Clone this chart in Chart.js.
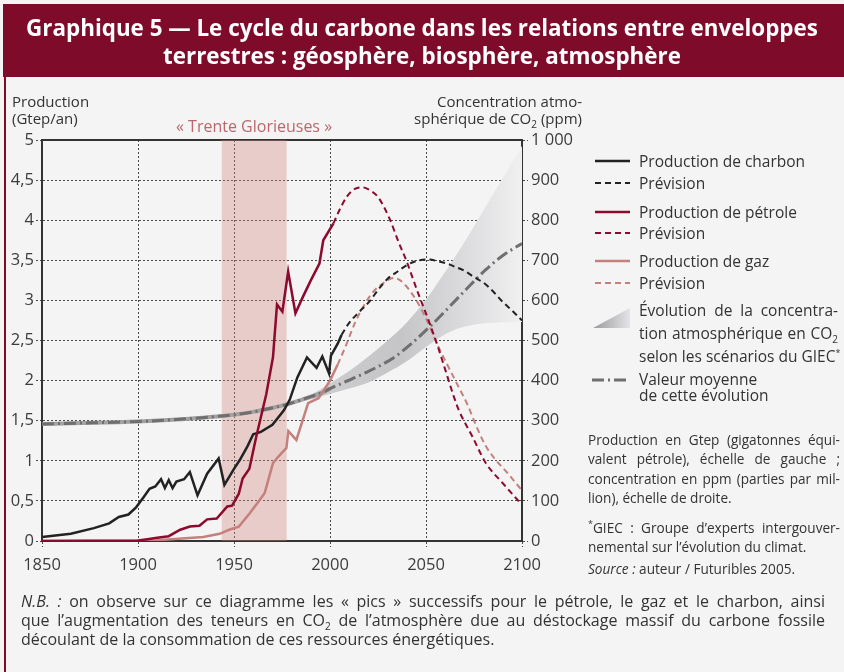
<!DOCTYPE html>
<html lang="fr">
<head>
<meta charset="utf-8">
<script src="https://cdn.jsdelivr.net/npm/chart.js@4.4.0/dist/chart.umd.min.js"></script>
<style>
  body { margin: 0; width: 844px; height: 672px; background: #f4f4f4; position: relative; overflow: hidden;
         font-family: "Open Sans", sans-serif; color: #333; }
  #chart { position: absolute; left: 0; top: 0; }
  .abs { position: absolute; white-space: nowrap; }
  .title-band { position: absolute; left: 3px; top: 4px; width: 841px; height: 73px; background: #7f0b2b; }
  .title { position: absolute; left: 0; width: 844px; text-align: center; color: #fff; font-weight: 700;
           font-size: 22.4px; line-height: 28px; white-space: nowrap; }
  .frame { position: absolute; left: 4px; top: 77px; width: 2px; height: 595px; background: #7f0b2b; }
  .axt { font-size: 15px; line-height: 18px; color: #333; }
  .leg { font-size: 15.5px; line-height: 18px; color: #333; }
  .note { position: absolute; left: 588px; width: 252px; font-size: 13.6px; line-height: 19.4px; color: #333; }
  .j { text-align: justify; text-align-last: justify; white-space: nowrap; }
  .nb { position: absolute; left: 21px; width: 804px; font-size: 16px; line-height: 19px; color: #333; }
</style>
</head>
<body>
<canvas id="chart" width="844" height="672"></canvas>

<div class="title-band"></div>
<div class="title" style="top:14px">Graphique 5 — Le cycle du carbone dans les relations entre enveloppes</div>
<div class="title" style="top:42px">terrestres : géosphère, biosphère, atmosphère</div>
<div class="frame"></div>

<div class="abs axt" style="left:12px;top:92px">Production</div>
<div class="abs axt" style="left:12px;top:109px">(Gtep/an)</div>
<div class="abs axt" style="right:262px;top:92px;text-align:right">Concentration atmo-</div>
<div class="abs axt" style="right:262px;top:109px;text-align:right">sphérique de CO<sub style="font-size:10px;line-height:0">2</sub> (ppm)</div>
<div class="abs axt" style="left:176px;top:117px;font-size:16px;color:#b9676b">« Trente Glorieuses »</div>

<svg class="abs" style="left:590px;top:150px" width="44" height="245">
  <line x1="5" y1="11" x2="40" y2="11" stroke="#222" stroke-width="2.5"/>
  <line x1="5" y1="33" x2="40" y2="33" stroke="#222" stroke-width="2" stroke-dasharray="6,4"/>
  <line x1="5" y1="62" x2="40" y2="62" stroke="#8b0a2e" stroke-width="2.5"/>
  <line x1="5" y1="83" x2="40" y2="83" stroke="#8b0a2e" stroke-width="2" stroke-dasharray="6,4"/>
  <line x1="5" y1="111" x2="40" y2="111" stroke="#c4807c" stroke-width="2.5"/>
  <line x1="5" y1="133" x2="40" y2="133" stroke="#c4807c" stroke-width="2" stroke-dasharray="6,4"/>
  <defs><linearGradient id="gg" x1="0" x2="1" y1="0" y2="0"><stop offset="0" stop-color="#9a9a9c"/><stop offset="1" stop-color="#e4e4e6"/></linearGradient></defs>
  <polygon points="3,178 40,158 40,178" fill="url(#gg)"/>
  <line x1="2" y1="230" x2="40" y2="230" stroke="#6f6f6f" stroke-width="3" stroke-dasharray="12,4,2,4"/>
</svg>
<div class="abs leg" style="left:639px;top:152px">Production de charbon</div>
<div class="abs leg" style="left:639px;top:174px">Prévision</div>
<div class="abs leg" style="left:639px;top:203px">Production de pétrole</div>
<div class="abs leg" style="left:639px;top:224px">Prévision</div>
<div class="abs leg" style="left:639px;top:252px">Production de gaz</div>
<div class="abs leg" style="left:639px;top:274px">Prévision</div>
<div class="abs leg j" style="left:639px;top:301px;width:199px">Évolution de la concentra-</div>
<div class="abs leg j" style="left:639px;top:324px;width:199px">tion atmosphérique en CO<sub style="font-size:10px;line-height:0">2</sub></div>
<div class="abs leg" style="left:639px;top:347px">selon les scénarios du GIEC<sup style="font-size:9px;line-height:0">*</sup></div>
<div class="abs leg" style="left:639px;top:370px">Valeur moyenne</div>
<div class="abs leg" style="left:639px;top:386px">de cette évolution</div>

<div class="note" style="top:430px">
  <div class="j">Production en Gtep (gigatonnes équi-</div>
  <div class="j">valent pétrole), échelle de gauche ;</div>
  <div class="j">concentration en ppm (parties par mil-</div>
  <div>lion), échelle de droite.</div>
</div>
<div class="note" style="top:518px">
  <div class="j"><sup style="font-size:9px;line-height:0">*</sup>GIEC : Groupe d’experts intergouver-</div>
  <div>nemental sur l’évolution du climat.</div>
</div>
<div class="note" style="top:559px"><i>Source :</i> auteur / Futuribles 2005.</div>

<div class="nb" style="top:592px">
  <div class="j"><i>N.B. :</i> on observe sur ce diagramme les « pics » successifs pour le pétrole, le gaz et le charbon, ainsi</div>
  <div class="j">que l’augmentation des teneurs en CO<sub style="font-size:10px;line-height:0">2</sub> de l’atmosphère due au déstockage massif du carbone fossile</div>
  <div>découlant de la consommation de ces ressources énergétiques.</div>
</div>

<script>
// Production de charbon (Gtep/an)
const coalYears = [1850, 1865, 1877, 1885, 1890, 1895, 1899, 1903, 1906, 1909, 1912, 1914, 1916, 1918, 1920, 1924,
  1927, 1931, 1936, 1942, 1945, 1950, 1953, 1957, 1960, 1964, 1970, 1976, 1979, 1983, 1988, 1993, 1996, 1999.5,
  2000.5, 2004, 2006];
const coalValues = [0.05, 0.09, 0.16, 0.22, 0.30, 0.33, 0.42, 0.55, 0.65, 0.68, 0.77, 0.66, 0.76, 0.66, 0.74, 0.77,
  0.86, 0.57, 0.84, 1.03, 0.70, 0.90, 1.01, 1.18, 1.33, 1.36, 1.45, 1.63, 1.76, 2.04, 2.29, 2.16, 2.30, 2.09,
  2.31, 2.46, 2.57];
const coalForecastYears = [2006, 2010, 2015, 2021, 2025, 2030, 2034, 2040, 2045, 2051, 2056, 2062, 2065, 2070, 2075,
  2080, 2085, 2090, 2095, 2100];
const coalForecastValues = [2.57, 2.72, 2.85, 3.0, 3.13, 3.27, 3.34, 3.44, 3.49, 3.51, 3.49, 3.45, 3.42, 3.37, 3.29,
  3.22, 3.11, 2.98, 2.87, 2.75];

// Production de pétrole
const oilYears = [1850, 1900, 1904, 1910, 1916, 1922, 1927, 1932, 1936, 1941, 1946.5, 1949, 1952.5, 1954.5, 1958,
  1961.5, 1966.8, 1970.3, 1972.4, 1975.2, 1978.2, 1982, 1986, 1990, 1994.5, 1996.5, 2001.8];
const oilValues = [0, 0.005, 0.02, 0.04, 0.06, 0.14, 0.18, 0.19, 0.27, 0.28, 0.43, 0.44, 0.59, 0.78, 0.90,
  1.29, 1.83, 2.29, 2.95, 2.86, 3.36, 2.84, 3.05, 3.25, 3.46, 3.75, 3.96];
const oilForecastYears = [2001.8, 2005, 2009, 2013, 2017, 2021, 2025, 2031, 2036, 2039.7, 2045.9, 2051.2, 2056.5,
  2060.1, 2064.5, 2067.1, 2074.2, 2081.2, 2090, 2100];
const oilForecastValues = [3.96, 4.13, 4.30, 4.39, 4.41, 4.37, 4.29, 4.02, 3.71, 3.50, 3.09, 2.76, 2.40,
  2.13, 1.80, 1.63, 1.30, 0.97, 0.72, 0.45];

// Production de gaz
const gasYears = [1850, 1900, 1910, 1923, 1934, 1942.5, 1947.5, 1952.5, 1958, 1963, 1966, 1970.3, 1973, 1977.3,
  1978.3, 1982.5, 1988.6, 1994, 2000, 2004];
const gasValues = [0, 0.003, 0.01, 0.03, 0.05, 0.09, 0.14, 0.18, 0.34, 0.50, 0.60, 0.97, 1.05, 1.16,
  1.37, 1.26, 1.72, 1.78, 2.0, 2.2];
const gasForecastYears = [2004, 2008, 2013, 2018, 2023, 2028, 2033, 2036, 2040, 2045, 2049.5, 2056.5, 2060, 2067,
  2072, 2075, 2081, 2086, 2092, 2100];
const gasForecastValues = [2.2, 2.42, 2.72, 2.95, 3.12, 3.22, 3.28, 3.26, 3.17, 3.0, 2.80, 2.42, 2.25, 1.92,
  1.68, 1.50, 1.19, 1.02, 0.86, 0.63];

// Concentration atmosphérique de CO2 (ppm)
const co2HistYears = [1850, 1870, 1900, 1920, 1950, 1960, 1970, 1977, 1985, 1990, 1996, 2000];
const co2HistValues = [292, 294, 298, 303, 315, 322, 332, 340, 352, 360, 370, 380];
const co2MeanYears = [1850, 1870, 1900, 1920, 1950, 1960, 1970, 1977, 1985, 1990, 1996, 2000, 2016, 2034, 2051,
  2069, 2081, 2090, 2100];
const co2MeanValues = [292, 294, 298, 303, 315, 322, 332, 340, 352, 360, 370, 380, 414, 460, 530,
  618, 676, 712, 742];
const giecYears = [1975, 1985, 1995, 2000, 2010, 2020, 2030, 2040, 2050, 2057, 2064, 2070, 2080, 2090, 2100];
const giecHigh = [336, 353, 378, 393, 424, 460, 500, 545, 602, 650, 700, 745, 825, 905, 985];
const giecLow = [334, 347, 360, 367, 380, 395, 420, 448, 484, 507, 525, 534, 543, 545, 546];

// « Trente Glorieuses »
const gloriousYears = [1943.5, 1977.5];
const gloriousTop = [5, 5];

const yTicks = ['0', '0,5', '1', '1,5', '2', '2,5', '3', '3,5', '4', '4,5', '5'];

const pts = (xs, ys) => xs.map((x, i) => ({ x: x, y: ys[i] }));

const COAL = '#222222';
const OIL = '#8b0a2e';
const GAS = '#c4807c';
const tickFont = { family: 'Open Sans', size: 16.5 };
const gridCol = '#4a4a4a';

function giecFill(context) {
  const chart = context.chart;
  const area = chart.chartArea;
  if (!area) return '#d0d0d2';
  const xs = chart.scales.x;
  const g = chart.ctx.createLinearGradient(xs.getPixelForValue(1985), 0, xs.getPixelForValue(2100), 0);
  g.addColorStop(0, '#cfcfd2');
  g.addColorStop(0.45, '#c5c5c8');
  g.addColorStop(1, '#f0f0f1');
  return g;
}

const ctx = document.getElementById('chart').getContext('2d');
const chart = new Chart(ctx, {
  type: 'line',
  data: {
    datasets: [
      { label: 'Production de pétrole', data: pts(oilYears, oilValues), yAxisID: 'y',
        borderColor: OIL, borderWidth: 2.5, order: 1 },
      { label: 'Prévision pétrole', data: pts(oilForecastYears, oilForecastValues), yAxisID: 'y',
        borderColor: OIL, borderWidth: 2, borderDash: [6, 4], cubicInterpolationMode: 'monotone', order: 1 },
      { label: 'Production de charbon', data: pts(coalYears, coalValues), yAxisID: 'y',
        borderColor: COAL, borderWidth: 2.5, order: 2 },
      { label: 'Prévision charbon', data: pts(coalForecastYears, coalForecastValues), yAxisID: 'y',
        borderColor: COAL, borderWidth: 2, borderDash: [6, 4], cubicInterpolationMode: 'monotone', order: 2 },
      { label: 'Production de gaz', data: pts(gasYears, gasValues), yAxisID: 'y',
        borderColor: GAS, borderWidth: 2.5, order: 3 },
      { label: 'Prévision gaz', data: pts(gasForecastYears, gasForecastValues), yAxisID: 'y',
        borderColor: GAS, borderWidth: 2, borderDash: [6, 4], cubicInterpolationMode: 'monotone', order: 3 },
      { label: 'Valeur moyenne', data: pts(co2MeanYears, co2MeanValues), yAxisID: 'y2',
        borderColor: '#6f6f6f', borderWidth: 3, borderDash: [12, 4, 2, 4], cubicInterpolationMode: 'monotone', order: 4 },
      { label: 'CO2 historique', data: pts(co2HistYears, co2HistValues), yAxisID: 'y2',
        borderColor: '#a2a2a2', borderWidth: 4, cubicInterpolationMode: 'monotone', order: 5 },
      { label: 'GIEC haut', data: pts(giecYears, giecHigh), yAxisID: 'y2',
        borderWidth: 0, borderColor: 'rgba(0,0,0,0)', backgroundColor: giecFill, fill: '+1',
        cubicInterpolationMode: 'monotone', order: 6 },
      { label: 'GIEC bas', data: pts(giecYears, giecLow), yAxisID: 'y2',
        borderWidth: 0, borderColor: 'rgba(0,0,0,0)', cubicInterpolationMode: 'monotone', order: 6 },
      { label: 'Trente Glorieuses', data: pts(gloriousYears, gloriousTop), yAxisID: 'y',
        borderWidth: 0, borderColor: 'rgba(0,0,0,0)', backgroundColor: 'rgba(210,130,124,0.35)', fill: 'origin', order: 7 }
    ]
  },
  options: {
    responsive: false,
    animation: false,
    layout: { padding: { left: 0, right: 254, top: 140, bottom: 87 } },
    plugins: { legend: { display: false }, tooltip: { enabled: false } },
    elements: { point: { radius: 0 }, line: { tension: 0 } },
    scales: {
      x: {
        type: 'linear', min: 1850, max: 2100, position: 'bottom',
        ticks: { stepSize: 50, callback: v => String(v), color: '#3c3c3c', font: tickFont, padding: 8, maxRotation: 0 },
        grid: { color: gridCol, lineWidth: 1, tickLength: 6, tickColor: gridCol, tickBorderDash: [2, 2] },
        border: { display: true, color: '#333', width: 2, dash: [2, 2] },
        afterFit: s => { s.height = 44; }
      },
      xTop: {
        type: 'linear', min: 1850, max: 2100, position: 'top',
        ticks: { display: false }, grid: { display: false },
        border: { display: true, color: '#333', width: 2 },
        afterFit: s => { s.height = 0; }
      },
      y: {
        position: 'left', min: 0, max: 5,
        ticks: { stepSize: 0.5, callback: (v, i) => yTicks[i], color: '#3c3c3c', font: tickFont, padding: 2 },
        grid: { color: gridCol, lineWidth: 1, tickLength: 6, tickColor: gridCol, tickBorderDash: [2, 2] },
        border: { display: true, color: '#333', width: 2, dash: [2, 2] },
        afterFit: s => { s.width = 42; }
      },
      y2: {
        position: 'right', min: 0, max: 1000,
        ticks: { stepSize: 100, callback: v => (v === 1000 ? '1 000' : String(v)), color: '#3c3c3c', font: tickFont, padding: 3 },
        grid: { drawOnChartArea: false, color: gridCol, tickLength: 6, tickColor: gridCol, tickBorderDash: [2, 2] },
        border: { display: true, color: '#333', width: 2 },
        afterFit: s => { s.width = 68; }
      }
    }
  }
});
</script>
</body>
</html>
